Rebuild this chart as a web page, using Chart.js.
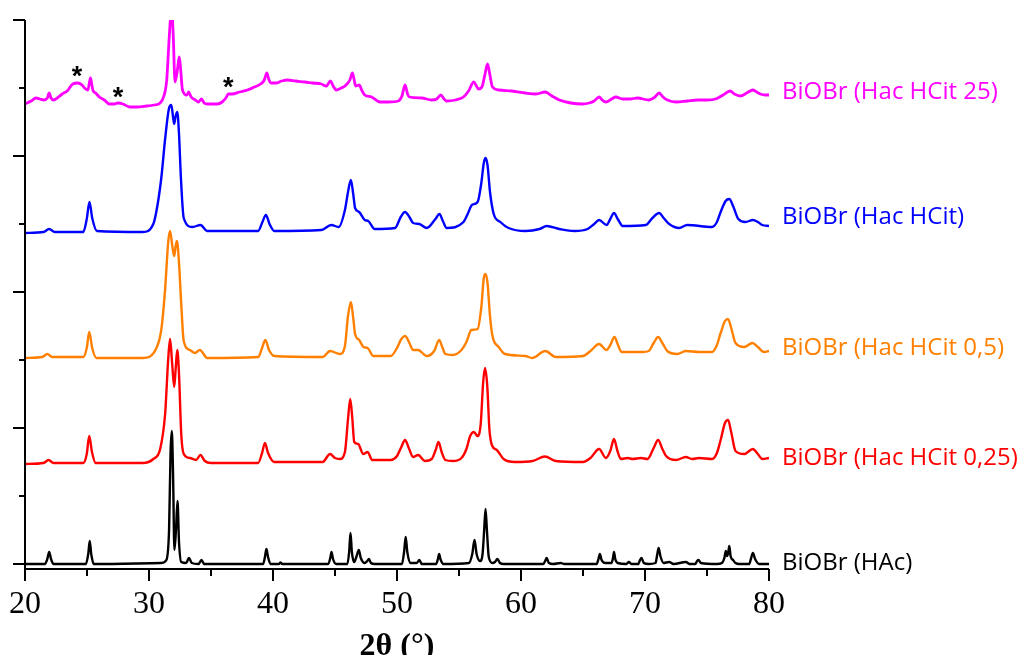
<!DOCTYPE html>
<html>
<head>
<meta charset="utf-8">
<script src="https://cdn.jsdelivr.net/npm/chart.js@4.4.1/dist/chart.umd.min.js"></script>
<style>
    body { margin: 0; background: #fff; }
    #wrap { width: 1021px; height: 655px; }
</style>
</head>
<body>
<div id="wrap"><canvas id="xrd" width="1021" height="655"></canvas></div>
<script>
// 2theta / intensity pairs (intensity incl. vertical offset)
const hac = [
    [20, 0], [21.6, 0], [21.8, 5], [21.95, 12], [22.1, 5], [22.3, 0],
    [24.9, 0], [25.1, 10], [25.22, 23], [25.34, 10], [25.55, 0],
    [31.0, 1], [31.4, 4], [31.62, 35], [31.74, 112], [31.84, 133], [31.94, 90], [32.05, 14], [32.18, 35], [32.3, 63], [32.42, 22], [32.6, 2],
    [33.0, 1], [33.22, 6], [33.45, 1], [34.0, 0], [34.23, 4], [34.45, 0],
    [39.2, 0], [39.35, 7], [39.47, 15], [39.6, 7], [39.8, 0],
    [40.5, 0], [40.6, 1.5], [40.75, 0],
    [44.45, 0], [44.62, 6], [44.72, 12], [44.84, 5], [45.1, 0],
    [46.0, 0], [46.14, 12], [46.25, 31], [46.36, 12], [46.55, 2], [46.72, 7], [46.92, 14], [47.08, 6], [47.4, 1], [47.6, 3], [47.74, 5], [47.9, 1], [48.2, 0],
    [50.4, 0], [50.57, 12], [50.7, 27], [50.83, 12], [51.1, 1], [51.6, 1], [51.8, 4], [52.0, 0],
    [53.15, 0], [53.3, 5], [53.4, 10], [53.5, 5], [53.75, 0],
    [55.8, 1], [56.07, 10], [56.25, 24], [56.42, 10], [56.7, 3], [56.9, 10], [57.03, 34], [57.14, 55], [57.25, 34], [57.4, 7], [57.7, 1], [57.9, 2], [58.1, 5], [58.3, 1], [58.6, 0],
    [61.8, 0], [61.95, 3], [62.07, 6], [62.25, 1], [62.6, 0], [63.2, 1], [63.5, 0],
    [66.1, 0], [66.25, 5], [66.36, 10], [66.5, 4], [66.8, 1],
    [67.3, 1], [67.42, 6], [67.5, 12], [67.6, 5], [67.8, 1],
    [68.5, 0], [68.7, 2], [68.9, 0],
    [69.45, 0], [69.6, 4], [69.72, 6], [69.9, 1], [70.3, 0],
    [70.85, 1], [70.98, 9], [71.1, 16], [71.24, 8], [71.5, 1],
    [71.95, 2], [72.3, 0], [73.3, 2], [73.6, 0],
    [74.05, 0], [74.2, 3], [74.32, 4], [74.5, 1], [75.8, 0],
    [76.2, 1], [76.4, 6], [76.52, 13], [76.62, 8], [76.72, 12], [76.8, 18], [76.9, 8], [77.1, 4], [77.3, 1], [77.6, 0],
    [78.4, 0], [78.56, 6], [78.7, 11], [78.88, 5], [79.2, 0], [80, 0]
];
const hcit025 = [
    [20, 100], [21.5, 101], [21.9, 104], [22.3, 101], [24.7, 101], [24.98, 110], [25.18, 128], [25.4, 112], [25.7, 101],
    [29.5, 101], [30.35, 105], [30.9, 115], [31.3, 150], [31.55, 205], [31.7, 225], [31.87, 200], [32.03, 177], [32.15, 195], [32.28, 214], [32.42, 190], [32.6, 130], [32.8, 110], [33.3, 106], [33.8, 104], [34.15, 109], [34.5, 103], [35, 101],
    [38.8, 101], [39.12, 111], [39.35, 121], [39.6, 111], [40.1, 102],
    [44.0, 102], [44.6, 110], [45.0, 106], [45.4, 105], [45.8, 112], [46.05, 145], [46.23, 165], [46.4, 145], [46.55, 122], [46.87, 120], [47.28, 110], [47.63, 112], [48.0, 104],
    [49.5, 104], [50.0, 108], [50.35, 117], [50.65, 124], [50.95, 116], [51.3, 107], [51.7, 109], [52.26, 103], [52.8, 105], [53.12, 114], [53.35, 122], [53.6, 112], [53.9, 104], [54.5, 103],
    [55.2, 106], [55.6, 115], [55.9, 128], [56.2, 132], [56.5, 128], [56.75, 140], [56.95, 182], [57.1, 196], [57.28, 178], [57.45, 135], [57.65, 119], [58.05, 114], [58.6, 105], [59.5, 102],
    [60.94, 103], [61.93, 107.5], [62.8, 103], [65.0, 102], [65.6, 106], [66.3, 115], [66.85, 106], [67.2, 113], [67.5, 125], [67.78, 113], [68.05, 105], [68.6, 106], [69.0, 105], [69.66, 106], [70.2, 105],
    [70.7, 116], [71.06, 124], [71.4, 115], [71.7, 108], [72.5, 104], [73.3, 107], [73.8, 105], [74.36, 106], [75.4, 105], [75.8, 111], [76.1, 124], [76.45, 141], [76.7, 144], [76.95, 132], [77.3, 113],
    [78.0, 110], [78.7, 115], [79.1, 110], [79.46, 105], [80, 106]
];
const hcit05 = [
    [20, 206], [21.4, 207], [21.8, 210], [22.2, 207], [24.7, 207], [24.98, 216], [25.18, 232], [25.42, 216], [25.75, 206],
    [29.5, 206], [30.6, 216], [31.0, 235], [31.3, 275], [31.55, 322], [31.7, 333], [31.88, 318], [32.03, 308], [32.15, 318], [32.25, 323], [32.4, 305], [32.6, 260], [32.8, 223], [33.3, 214], [33.7, 211], [34.1, 214], [34.7, 206],
    [38.8, 207], [39.12, 216], [39.38, 224], [39.68, 214], [40.1, 208],
    [44.0, 207], [44.6, 213], [45.4, 210], [45.8, 218], [46.05, 248], [46.28, 262], [46.47, 246], [46.62, 230], [46.95, 224], [47.3, 217], [47.63, 216], [48.1, 208],
    [49.5, 208], [50.0, 216], [50.35, 225], [50.65, 228], [51.0, 221], [51.3, 214], [51.7, 214], [52.4, 208], [53.0, 213], [53.4, 224], [53.65, 217], [53.9, 210], [54.5, 209],
    [55.2, 214], [55.6, 222], [56.0, 234], [56.5, 235], [56.8, 257], [57.0, 286], [57.14, 290], [57.3, 281], [57.5, 248], [57.7, 228], [58.2, 217], [58.7, 210], [60.35, 208],
    [60.9, 206], [61.96, 213], [62.8, 207], [65.0, 208], [65.6, 213], [66.3, 220], [66.9, 214], [67.2, 219], [67.54, 227], [67.82, 219], [68.1, 212], [69.0, 212], [69.8, 212], [70.3, 213],
    [70.7, 221], [71.06, 227], [71.4, 221], [71.8, 213], [72.6, 210], [73.3, 213], [74.36, 212], [75.4, 212], [75.8, 219], [76.1, 231], [76.45, 243], [76.7, 245], [76.95, 236], [77.3, 221],
    [78.0, 217], [78.66, 221], [79.1, 217], [79.6, 212], [80, 213]
];
const hcit = [
    [20, 331], [21.5, 332], [21.95, 335], [22.4, 332], [24.7, 332], [24.98, 345], [25.2, 362], [25.42, 346], [25.8, 333],
    [29.5, 332], [30.35, 340], [30.7, 360], [31.0, 387], [31.3, 425], [31.6, 455], [31.8, 459], [31.93, 448], [32.03, 440], [32.15, 448], [32.28, 452], [32.42, 430], [32.57, 387], [32.8, 346], [33.5, 337], [34.15, 339], [34.7, 333],
    [38.8, 333], [39.15, 342], [39.43, 349], [39.72, 340], [40.1, 333],
    [43.9, 334], [44.7, 339], [45.3, 337], [45.8, 354], [46.05, 372], [46.28, 384], [46.47, 370], [46.62, 356], [46.95, 352], [47.4, 344], [47.68, 343], [48.2, 335],
    [49.84, 336], [50.3, 347], [50.65, 352], [51.0, 347], [51.3, 341], [51.8, 340], [52.4, 336], [53.1, 345], [53.42, 350], [53.7, 343], [54.0, 336],
    [55.36, 342], [55.7, 350], [56.04, 359], [56.5, 362], [56.8, 381], [57.0, 401], [57.14, 406], [57.3, 399], [57.5, 372], [57.8, 350], [58.33, 342], [59.0, 336], [60.35, 333],
    [61.5, 335], [62.07, 338], [63.1, 335], [64.3, 333], [65.37, 335], [65.9, 340], [66.3, 344], [66.9, 339], [67.2, 345], [67.5, 351], [67.8, 345], [68.2, 338],
    [70.07, 339], [70.6, 346], [71.14, 351], [71.5, 346], [71.95, 340], [72.75, 336], [73.4, 339], [75.4, 337], [75.8, 342], [76.1, 352], [76.5, 363], [76.8, 365], [77.1, 358], [77.53, 345],
    [78.1, 342], [78.7, 344], [79.1, 342], [79.46, 339], [80, 338]
];
const hcit25 = [
    [20, 460], [20.5, 463], [20.87, 466], [21.2, 465], [21.5, 464], [21.8, 466], [21.95, 471], [22.1, 466], [22.3, 464], [22.6, 466], [23.0, 470], [23.4, 473], [23.85, 480], [24.25, 481], [24.6, 479],
    [24.8, 476], [25.07, 474], [25.2, 482], [25.28, 486], [25.38, 480], [25.47, 474], [25.7, 471], [26.0, 467], [26.4, 464], [26.8, 460], [27.2, 460], [27.5, 461], [27.9, 460], [28.45, 457],
    [29.0, 457], [29.8, 458], [30.4, 459], [30.9, 461], [31.2, 468], [31.43, 484], [31.6, 520], [31.75, 548], [31.84, 552], [31.95, 530], [32.1, 482], [32.3, 495], [32.44, 507], [32.55, 495],
    [32.7, 474], [33.06, 469], [33.2, 472], [33.4, 467], [33.74, 464], [34.0, 462], [34.23, 465], [34.45, 461], [34.7, 460], [35.5, 460], [35.9, 462], [36.2, 466], [36.4, 470], [36.7, 470],
    [37.3, 472], [37.94, 474], [38.5, 477], [39.0, 480], [39.3, 484], [39.5, 491], [39.68, 484], [39.84, 481], [40.24, 481], [40.7, 483], [41.2, 484], [41.8, 483], [42.56, 482], [43.2, 481],
    [43.9, 480], [44.3, 478], [44.64, 483], [44.85, 478], [45.1, 474], [45.5, 476], [45.8, 478], [46.2, 484], [46.4, 491], [46.55, 484], [46.66, 478], [46.95, 479], [47.15, 474], [47.4, 469],
    [47.95, 467], [48.63, 462], [49.3, 462], [50.1, 463], [50.4, 468], [50.65, 479], [50.85, 470], [51.0, 467], [52.0, 466], [52.8, 464], [53.2, 465], [53.53, 469], [53.8, 465], [54.0, 463],
    [54.7, 464], [55.36, 467], [55.77, 473], [56.2, 482], [56.45, 477], [56.58, 475], [56.85, 477], [57.1, 490], [57.3, 500], [57.48, 490], [57.7, 477], [58.2, 474], [59.27, 473], [60.35, 471],
    [61.2, 470], [61.96, 472], [62.5, 468], [63.1, 464], [64.0, 461], [64.97, 460], [65.5, 461], [65.9, 463], [66.3, 467], [66.55, 464], [66.85, 462], [67.3, 465], [67.65, 467], [68.2, 465],
    [68.8, 465], [69.4, 466], [70.3, 464], [70.8, 467], [71.14, 471], [71.45, 467], [71.8, 464], [72.5, 462], [73.4, 463], [74.23, 464], [75.0, 464], [75.7, 465], [76.3, 469], [76.86, 473],
    [77.2, 470], [77.7, 468], [78.2, 471], [78.7, 474], [79.0, 472], [79.3, 470], [79.7, 469], [80, 469]
];

const seriesNames = ['BiOBr (HAc)', 'BiOBr (Hac HCit 0,25)', 'BiOBr (Hac HCit 0,5)', 'BiOBr (Hac HCit)', 'BiOBr (Hac HCit 25)'];
const seriesData = [hac, hcit025, hcit05, hcit, hcit25];
const seriesColors = ['#000000', '#ff0000', '#ff8000', '#0000ff', '#ff00ff'];
// intensity level where each sample name sits, right of the plot
const labelLevels = [1, 106, 216, 347, 472];

const xMajorTicks = [20, 30, 40, 50, 60, 70, 80];
const xMinorTicks = [25, 35, 45, 55, 65, 75];
const yMajorTicks = [0, 136, 272, 408, 544];
const yMinorTicks = [68, 204, 340, 476];

// impurity marks on the top pattern
const starX = [24.2, 27.5, 36.4];
const starY = [495, 474, 484];

const axesPlugin = {
    id: 'xrdAxes',
    afterDatasetsDraw(chart) {
        const ctx = chart.ctx;
        const xs = chart.scales.x;
        const ys = chart.scales.y;
        const area = chart.chartArea;
        ctx.save();
        ctx.strokeStyle = '#000';
        ctx.lineWidth = 2;
        ctx.lineCap = 'butt';

        // axis lines
        ctx.beginPath();
        ctx.moveTo(area.left, area.top);
        ctx.lineTo(area.left, area.bottom);
        ctx.lineTo(area.right, area.bottom);
        ctx.stroke();

        // ticks
        ctx.beginPath();
        xMajorTicks.forEach(v => {
            const px = xs.getPixelForValue(v);
            ctx.moveTo(px, area.bottom);
            ctx.lineTo(px, area.bottom + 12);
        });
        xMinorTicks.forEach(v => {
            const px = xs.getPixelForValue(v);
            ctx.moveTo(px, area.bottom);
            ctx.lineTo(px, area.bottom + 7);
        });
        yMajorTicks.forEach(v => {
            const py = Math.round(ys.getPixelForValue(v));
            ctx.moveTo(area.left, py);
            ctx.lineTo(area.left - 12, py);
        });
        yMinorTicks.forEach(v => {
            const py = Math.round(ys.getPixelForValue(v));
            ctx.moveTo(area.left, py);
            ctx.lineTo(area.left - 6, py);
        });
        ctx.stroke();

        // x tick labels
        ctx.fillStyle = '#000';
        ctx.font = '32px "Liberation Serif", "Times New Roman", serif';
        ctx.textAlign = 'center';
        ctx.textBaseline = 'alphabetic';
        xMajorTicks.forEach(v => {
            ctx.fillText(String(v), xs.getPixelForValue(v), area.bottom + 44);
        });

        // axis title
        ctx.font = 'bold 32px "Liberation Serif", "Times New Roman", serif';
        ctx.fillText('2\u03b8 (\u00b0)', (area.left + area.right) / 2, area.bottom + 86);

        // sample names
        ctx.font = '24px "Open Sans", sans-serif';
        ctx.textAlign = 'left';
        ctx.textBaseline = 'middle';
        seriesNames.forEach((name, i) => {
            ctx.fillStyle = seriesColors[i];
            ctx.fillText(name, area.right + 13, ys.getPixelForValue(labelLevels[i]));
        });

        // asterisks
        ctx.fillStyle = '#000';
        ctx.font = 'bold 27px "Liberation Sans", sans-serif';
        ctx.textAlign = 'center';
        ctx.textBaseline = 'alphabetic';
        starX.forEach((v, i) => {
            ctx.fillText('*', xs.getPixelForValue(v), ys.getPixelForValue(starY[i]) + 16);
        });
        ctx.restore();
    }
};

new Chart(document.getElementById('xrd'), {
    type: 'line',
    data: {
        datasets: seriesData.map((pts, i) => ({
            label: seriesNames[i],
            data: pts.map(p => ({ x: p[0], y: p[1] })),
            borderColor: seriesColors[i],
            borderWidth: i === 4 ? 2.8 : 2.4,
            pointRadius: 0,
            fill: false,
            cubicInterpolationMode: 'monotone',
        })),
    },
    options: {
        responsive: false,
        animation: false,
        devicePixelRatio: 1,
        layout: {
            padding: { left: 25, top: 20, right: 252, bottom: 86 }
        },
        scales: {
            x: { type: 'linear', min: 20, max: 80, display: false },
            y: { type: 'linear', min: -5, max: 544, display: false },
        },
        plugins: {
            legend: { display: false },
            tooltip: { enabled: false },
        }
    },
    plugins: [axesPlugin]
});
</script>
</body>
</html>
